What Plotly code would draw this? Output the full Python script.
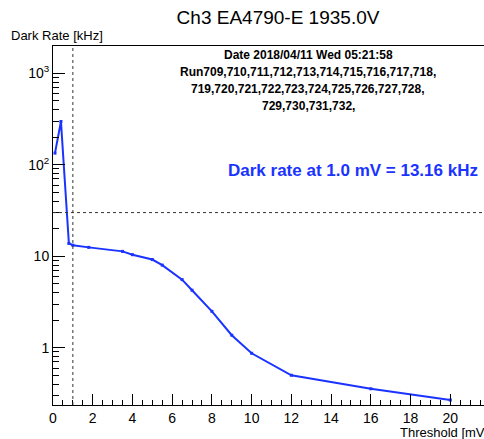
import plotly.graph_objects as go

# Data
threshold_mv = [0.1, 0.4, 0.8, 1.0, 1.8, 3.5, 4.0, 5.0, 5.5, 6.5, 7.0, 8.0, 9.0, 10.0, 12.0, 16.0, 20.0]
dark_rate_khz = [134, 297, 13.8, 13.2, 12.5, 11.3, 10.4, 9.2, 8.0, 5.55, 4.25, 2.5, 1.37, 0.87, 0.50, 0.356, 0.268]

ref_threshold = 1.0   # vertical dashed line
ref_rate = 30.0       # horizontal dashed line

title_text = "Ch3 EA4790-E 1935.0V"
info_lines = [
    "Date 2018/04/11 Wed 05:21:58",
    "Run709,710,711,712,713,714,715,716,717,718,",
    "719,720,721,722,723,724,725,726,727,728,",
    "729,730,731,732,",
]
result_text = "Dark rate at 1.0 mV = 13.16 kHz"

y_tickvals = [1, 10, 100, 1000]
y_ticktext = ["1", "10", "10<sup>2</sup>", "10<sup>3</sup>"]
y_minor = [m * 10 ** e for e in range(-1, 4) for m in range(2, 10)]

FONT = "Liberation Sans, Arial, Helvetica, sans-serif"
BLUE = "#1a33ff"

W, H = 500, 439
ML, MR, MT, MB = 53, 10, 46, 34
PW = W - ML - MR
PH = H - MT - MB


def px_x(px):
    return (px - ML) / PW


def px_y(py):
    return (H - MB - py) / PH


fig = go.Figure()
fig.add_trace(go.Scatter(
    x=threshold_mv, y=dark_rate_khz, mode="lines+markers",
    line=dict(color=BLUE, width=2),
    marker=dict(color=BLUE, size=3, symbol="square"),
    showlegend=False,
))

dash_style = dict(color="#333333", width=1, dash="3px,3px")
fig.add_shape(type="line", xref="x", yref="paper", x0=ref_threshold, x1=ref_threshold,
              y0=0, y1=1, line=dash_style)
fig.add_shape(type="line", xref="paper", yref="y", x0=0, x1=1,
              y0=ref_rate, y1=ref_rate, line=dash_style)

annotations = []
line_y = [55, 72, 89, 105.5]
for txt, py in zip(info_lines, line_y):
    annotations.append(dict(
        text=f"<b>{txt}</b>", xref="paper", yref="paper", x=px_x(308), y=px_y(py),
        xanchor="center", yanchor="middle", showarrow=False,
        font=dict(family=FONT, size=12, color="black"),
    ))
annotations.append(dict(
    text=f"<b>{result_text}</b>", xref="paper", yref="paper", x=px_x(353), y=px_y(170),
    xanchor="center", yanchor="middle", showarrow=False,
    font=dict(family=FONT, size=17, color=BLUE),
))
annotations.append(dict(
    text="Dark Rate [kHz]", xref="paper", yref="paper", x=px_x(9), y=px_y(35),
    xanchor="left", yanchor="middle", showarrow=False,
    font=dict(family=FONT, size=13, color="black"),
))
annotations.append(dict(
    text="Threshold [mV]", xref="paper", yref="paper", x=px_x(490), y=px_y(432),
    xanchor="right", yanchor="middle", showarrow=False,
    font=dict(family=FONT, size=13, color="black"),
))

fig.update_layout(
    width=W, height=H,
    margin=dict(l=ML, r=MR, t=MT, b=MB, pad=0),
    paper_bgcolor="white", plot_bgcolor="white",
    title=dict(text=title_text, x=278 / W, y=1 - 17 / H, xanchor="center", yanchor="middle",
               font=dict(family=FONT, size=19, color="black")),
    annotations=annotations,
    font=dict(family=FONT, color="black"),
)

fig.update_xaxes(
    range=[0, 22], showgrid=False, zeroline=False,
    showline=True, linecolor="black", linewidth=1, mirror=True,
    ticks="inside", ticklen=11, tickwidth=1, tickcolor="black",
    tickmode="array", tickvals=list(range(0, 21, 2)),
    tickfont=dict(family=FONT, size=14, color="black"),
    minor=dict(ticks="inside", ticklen=5, tickwidth=1, tickcolor="black", dtick=0.5, showgrid=False),
)
fig.update_yaxes(
    type="log", range=[-0.626, 3.298], showgrid=False, zeroline=False,
    showline=True, linecolor="black", linewidth=1, mirror=True,
    ticks="inside", ticklen=12, tickwidth=1, tickcolor="black",
    tickmode="array", tickvals=y_tickvals, ticktext=y_ticktext,
    tickfont=dict(family=FONT, size=14, color="black"),
    minor=dict(ticks="inside", ticklen=6, tickwidth=1, tickcolor="black",
               tickmode="array", tickvals=y_minor, showgrid=False),
)

fig.write_html("out.html")
